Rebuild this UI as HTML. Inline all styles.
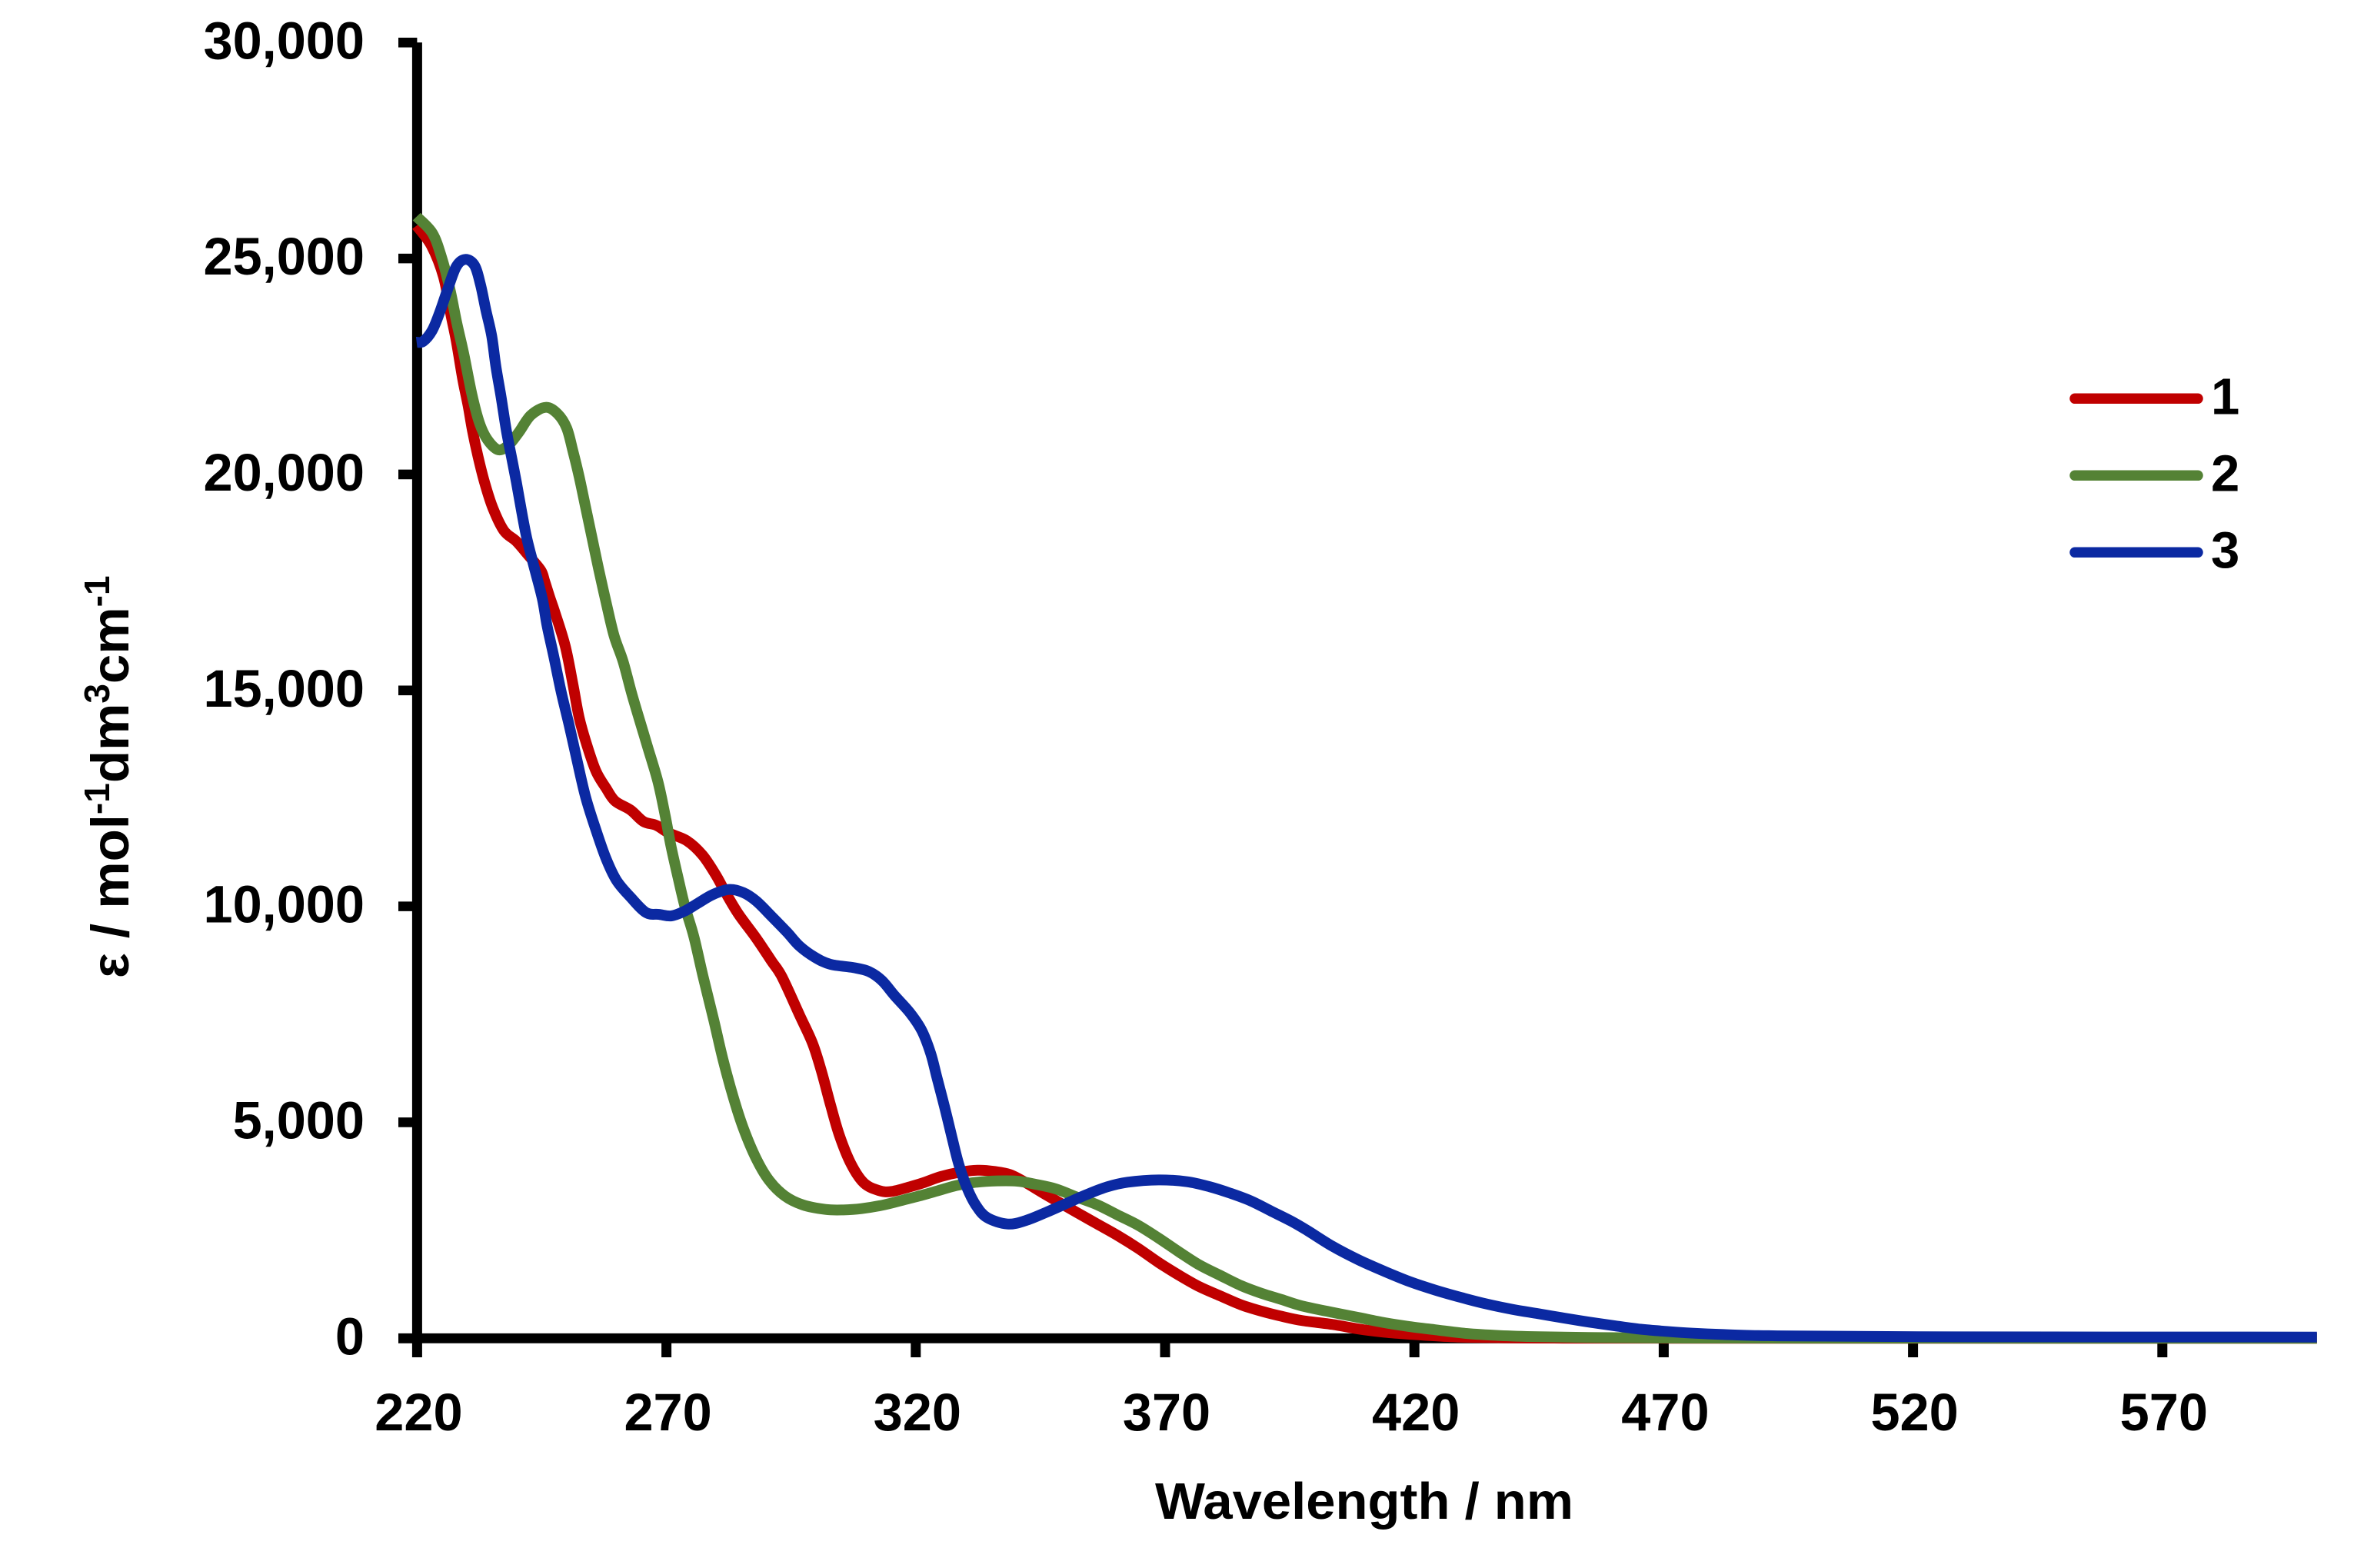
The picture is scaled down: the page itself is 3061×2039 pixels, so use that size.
<!DOCTYPE html>
<html lang="en">
<head>
<meta charset="utf-8">
<title>Molar absorptivity spectra</title>
<style>
  html, body { margin: 0; padding: 0; background: #ffffff; }
  svg { display: block; }
  text { font-family: "Liberation Sans", sans-serif; font-weight: 700; fill: #000000; }
</style>
</head>
<body>
<svg id="chart" xmlns="http://www.w3.org/2000/svg" width="3061" height="2039" viewBox="0 0 3061 2039">
  <rect x="0" y="0" width="3061" height="2039" fill="#ffffff"/>
  <g id="axes"></g>
  <g id="series"></g>
  <text x="1502" y="1975" font-size="67" textLength="544" lengthAdjust="spacingAndGlyphs">Wavelength / nm</text>
  <text transform="translate(167 1272) rotate(-90)" font-size="69">ε / mol<tspan font-size="46" dy="-25">-1</tspan><tspan dy="25">dm</tspan><tspan font-size="46" dy="-25">3</tspan><tspan dy="25">cm</tspan><tspan font-size="46" dy="-25">-1</tspan></text>
  <g>
    <g>
      <line x1="2698" y1="518.3" x2="2858" y2="518.3" stroke="#C00000" stroke-width="13.5" stroke-linecap="round"/>
      <text x="2875" y="538.6" font-size="67">1</text>
    </g>
    <g>
      <line x1="2698" y1="618.3" x2="2858" y2="618.3" stroke="#548235" stroke-width="13.5" stroke-linecap="round"/>
      <text x="2875" y="638.6" font-size="67">2</text>
    </g>
    <g>
      <line x1="2698" y1="718.3" x2="2858" y2="718.3" stroke="#0B29A2" stroke-width="13.5" stroke-linecap="round"/>
      <text x="2875" y="738.6" font-size="67">3</text>
    </g>
  </g>
</svg>
<script>
const xTickValues = [220, 270, 320, 370, 420, 470, 520, 570];
const xTickLabels = ["220", "270", "320", "370", "420", "470", "520", "570"];
const yTickValues = [0, 5000, 10000, 15000, 20000, 25000, 30000];
const yTickLabels = ["0", "5,000", "10,000", "15,000", "20,000", "25,000", "30,000"];

const wavelengths1 = [219.9,222.9,225.3,226.8,227.85,229.15,230.2,231.1,232.2,233.5,235.15,237.4,239.9,242.25,244.8,245.6,246.6,247.65,249.7,251.25,252.5,254.1,255.9,257.9,259.7,262.8,265.4,268,270.5,274.1,277.2,279.8,281.8,284.4,288,291.1,293.15,296.7,299.3,301.1,302.9,304.7,307,309.6,312.7,315.2,318.8,321.4,325,329.1,332.7,335.8,338.9,341.9,345.6,348.7,352.3,356.4,360.5,364.6,368.7,372.8,376.9,381,385.2,389.3,393.4,397.5,403.6,408.8,414,419,427.3,434.5,445,470,601];
const epsilon1 = [25760,25288,24575,23685,23092,22202,21607,21014,20421,19827,19234,18700,18451,18136,17780,17520,17157,16800,16029,15139,14368,13715,13122,12735,12438,12231,11964,11875,11697,11519,11192,10747,10332,9830,9264,8729,8373,7483,6830,6178,5406,4693,4041,3596,3418,3400,3507,3596,3744,3851,3892,3863,3792,3614,3358,3151,2913,2646,2379,2083,1755,1460,1193,985,776,628,509,410,320,215,140,94,36,18,6,2,0];

const wavelengths2 = [219.9,223.07,225,226.6,227.96,229.35,231,232.5,234.1,236.3,238.4,240.45,242.8,245.8,248.2,250,251.25,252.5,253.8,255.1,256.4,257.9,259.5,261.3,263.1,265.4,266.2,268.3,269.75,270.9,272.3,273.7,275.5,277.3,279.5,281.3,283.4,285.4,288,290.6,293.7,297.3,301.9,305.5,309.1,313.7,317.8,321.4,324.5,328.1,331.7,336.3,340.4,344,348.1,352.3,356.4,360.5,364.6,368.7,372.8,376.9,381,385.2,389.3,393.4,397.5,403.7,408.8,414,419,424.3,430.4,437.1,444.8,455,470,500,601];
const epsilon2 = [25970,25585,24990,24278,23506,22795,21845,21192,20806,20570,20688,20984,21370,21554,21400,21073,20540,19945,19234,18522,17810,17039,16266,15673,14902,14010,13700,12883,12100,11400,10680,10000,9300,8400,7364,6474,5584,4871,4159,3655,3299,3091,2984,2973,3002,3091,3210,3317,3418,3536,3607,3643,3637,3566,3459,3269,3091,2854,2617,2320,2000,1697,1460,1222,1043,896,748,598,481,361,272,196,112,64,36,18,8,3,0];

const wavelengths3 = [219.9,221.2,223,224.5,226.1,227.85,229.65,231.5,232.7,233.8,234.95,235.8,236.85,237.9,238.9,239.9,241,242,243.3,245.1,246.05,247.4,248.9,250.5,252,253.8,255.9,257.9,260,262.8,265.9,268.5,271,273.6,276.2,279.3,282.6,285.4,288,291.1,294.2,296.7,299.8,302.9,307.5,310.6,313.2,315.8,318.8,321.2,323,324.2,325.8,327.3,328.6,330.2,332,334.3,338.4,342,346.1,350.2,354.3,358.4,362.5,368.7,374.4,379,383.1,387.2,391.3,395.4,398.5,403.6,408.8,414,419.1,424.2,429.4,434.5,439.7,444.8,450,455.1,460.2,465.4,470.5,475.6,482,491,521,601];
const epsilon3 = [23062,23080,23329,23744,24278,24812,24979,24842,24400,23800,23210,22498,21785,21014,20421,19827,19115,18522,17929,17128,16504,15792,14961,14190,13418,12527,11756,11103,10599,10213,9857,9815,9780,9887,10065,10273,10391,10319,10124,9768,9400,9080,8820,8658,8582,8492,8284,7928,7542,7127,6593,6059,5347,4634,4041,3507,3091,2795,2646,2724,2913,3121,3329,3507,3614,3667,3625,3507,3358,3180,2943,2706,2498,2129,1816,1549,1310,1115,944,794,669,570,468,374,290,210,160,120,88,60,36,28];

const SVG_NS = "http://www.w3.org/2000/svg";
const xScale = function (nm) { return 542.4 + (nm - 220) * 6.484; };
const yScale = function (v) { return 1740.3 - v * 0.056167; };

const axes = document.getElementById("axes");
const seriesGroup = document.getElementById("series");

function makeLine(x1, y1, x2, y2, w) {
  const l = document.createElementNS(SVG_NS, "line");
  l.setAttribute("x1", x1);
  l.setAttribute("y1", y1);
  l.setAttribute("x2", x2);
  l.setAttribute("y2", y2);
  l.setAttribute("stroke", "#000000");
  l.setAttribute("stroke-width", w);
  return l;
}

const yAxisLine = makeLine(xScale(220), yScale(30000), xScale(220), yScale(0), 13);


axes.appendChild(yAxisLine);

const xAxisLine = makeLine(518, yScale(0), 3012.6, yScale(0), 12.8);


axes.appendChild(xAxisLine);

yTickValues.forEach(function (v, i) {
  const tick = makeLine(518, yScale(v), xScale(220), yScale(v), 12.6);
  
  
  axes.appendChild(tick);
  const label = document.createElementNS(SVG_NS, "text");
  
  
  label.setAttribute("x", 474);
  label.setAttribute("y", yScale(v) + 21);
  label.setAttribute("text-anchor", "end");
  label.setAttribute("font-size", "68.5");
  label.textContent = yTickLabels[i];
  axes.appendChild(label);
});

xTickValues.forEach(function (nm, i) {
  const tick = makeLine(xScale(nm), yScale(0), xScale(nm), 1765, 13);
  
  
  axes.appendChild(tick);
  const label = document.createElementNS(SVG_NS, "text");
  
  
  label.setAttribute("x", xScale(nm) + 2);
  label.setAttribute("y", 1860);
  label.setAttribute("text-anchor", "middle");
  label.setAttribute("font-size", "68.5");
  label.textContent = xTickLabels[i];
  axes.appendChild(label);
});

function smoothPath(xs, ys) {
  const pts = xs.map(function (nm, i) { return [xScale(nm), yScale(ys[i])]; });
  let d = "M" + pts[0][0].toFixed(2) + " " + pts[0][1].toFixed(2);
  for (let i = 0; i < pts.length - 1; i++) {
    const p0 = pts[Math.max(i - 1, 0)];
    const p1 = pts[i];
    const p2 = pts[i + 1];
    const p3 = pts[Math.min(i + 2, pts.length - 1)];
    const c1x = p1[0] + (p2[0] - p0[0]) / 6;
    const c1y = p1[1] + (p2[1] - p0[1]) / 6;
    const c2x = p2[0] - (p3[0] - p1[0]) / 6;
    const c2y = p2[1] - (p3[1] - p1[1]) / 6;
    d += "C" + c1x.toFixed(2) + " " + c1y.toFixed(2) + " " + c2x.toFixed(2) + " " + c2y.toFixed(2) + " " + p2[0].toFixed(2) + " " + p2[1].toFixed(2);
  }
  return d;
}

const line1 = document.createElementNS(SVG_NS, "path");


line1.setAttribute("d", smoothPath(wavelengths1, epsilon1));
line1.setAttribute("fill", "none");
line1.setAttribute("stroke", "#C00000");
line1.setAttribute("stroke-width", "14");
line1.setAttribute("stroke-linejoin", "round");
seriesGroup.appendChild(line1);

const line2 = document.createElementNS(SVG_NS, "path");


line2.setAttribute("d", smoothPath(wavelengths2, epsilon2));
line2.setAttribute("fill", "none");
line2.setAttribute("stroke", "#548235");
line2.setAttribute("stroke-width", "14");
line2.setAttribute("stroke-linejoin", "round");
seriesGroup.appendChild(line2);

const line3 = document.createElementNS(SVG_NS, "path");


line3.setAttribute("d", smoothPath(wavelengths3, epsilon3));
line3.setAttribute("fill", "none");
line3.setAttribute("stroke", "#0B29A2");
line3.setAttribute("stroke-width", "14");
line3.setAttribute("stroke-linejoin", "round");
seriesGroup.appendChild(line3);
</script>
</body>
</html>
